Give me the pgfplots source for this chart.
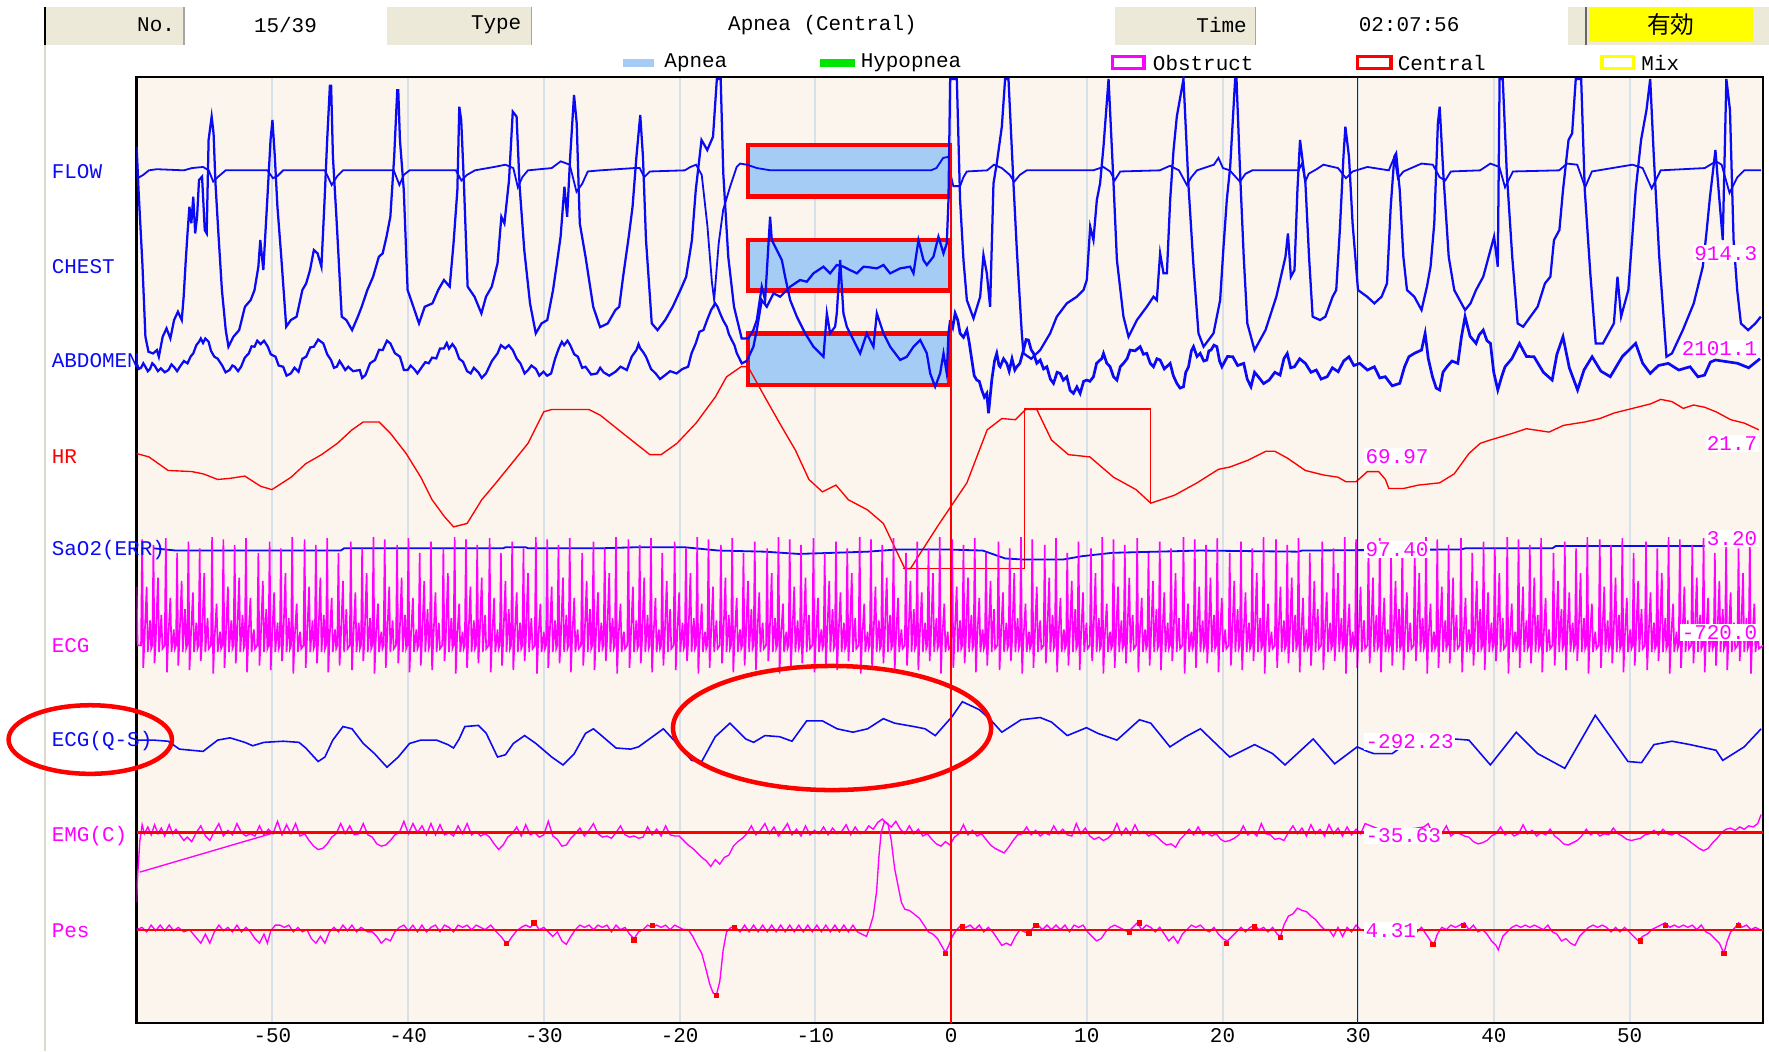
\documentclass[border=0pt]{standalone}
\usepackage{pgfplots}
\pgfplotsset{compat=1.18}
\usepackage{fontspec}
\newfontfamily\lbl{Liberation Mono}
\newfontfamily\cjk{Noto Sans CJK JP}
\newcommand\lf{\lbl\fontsize{13.2}{15}\selectfont}
\definecolor{bgc}{RGB}{252,245,237}
\definecolor{gridc}{RGB}{216,225,233}
\definecolor{hdr}{RGB}{236,233,216}
\definecolor{apn}{RGB}{164,204,244}
\definecolor{tb}{RGB}{10,10,245}
\definecolor{mag}{RGB}{255,0,255}
\definecolor{hypo}{RGB}{0,230,0}
\definecolor{mixy}{RGB}{255,255,0}
\begin{document}
\begin{tikzpicture}[x=0.25mm,y=-0.25mm]
\begin{scope}[shift={(-121,-907)}]
\path[use as bounding box] (0,0) rectangle (1568,932);
% header
\fill[hdr] (40,6) rectangle (1568,40);
\fill[white] (163,6) rectangle (343,40);
\fill[white] (471,6) rectangle (988,40);
\fill[white] (1113,6) rectangle (1390,40);
\fill[mixy] (1408,6) rectangle (1554,37);
\draw[gray!70, line width=0.3mm] (163,6) -- (163,40) (471,6) -- (471,40) (1113,6) -- (1113,40);
\draw[gray!80!black, line width=0.5mm] (1406,6) -- (1406,40);
\draw[black, line width=0.5mm] (40,6) -- (40,40);
\draw[hdr!85!gray, line width=0.35mm] (40,40) -- (40,932);
\node[anchor=east] at (160,22) {\lf No.};
\node at (253,22) {\lf 15/39};
\node[anchor=east] at (467,22) {\lf Type};
\node at (729,22) {\lf Apnea (Central)};
\node[anchor=east] at (1110,22) {\lf Time};
\node at (1249,22) {\lf 02:07:56};
\node at (1481,22) {\cjk\fontsize{15}{17}\selectfont 有効};
% legend
\fill[apn] (552,52.5) rectangle (580,59.5);
\fill[hypo] (727,52.5) rectangle (758,59.5);
\draw[mag, line width=0.7mm] (986,50) rectangle (1014,61);
\draw[red, line width=0.7mm] (1203,50) rectangle (1233,61);
\draw[mixy, line width=0.7mm] (1420,50) rectangle (1448,61);
\node[anchor=west] at (584,56) {\lf Apnea};
\node[anchor=west] at (758,56) {\lf Hypopnea};
\node[anchor=west] at (1017,56) {\lf Obstruct};
\node[anchor=west] at (1234,56) {\lf Central};
\node[anchor=west] at (1450,56) {\lf Mix};
\end{scope}
\begin{axis}[
  at={(0,0)}, anchor=south west,
  scale only axis, width=360.5mm, height=209.75mm,
  xmin=121, xmax=1563, ymin=68, ymax=907, y dir=reverse,
  axis background/.style={fill=bgc},
  xtick={241.5,361.8,482.1,602.4,722.7,843,963.3,1083.6,1203.9,1324.2,1444.5},
  xticklabels={-50,-40,-30,-20,-10,0,10,20,30,40,50},
  ytick=\empty, major tick length=0pt,
  xmajorgrids, grid style={gridc, line width=0.45mm},
  axis line style={black, line width=0.45mm},
  xticklabel style={font=\lf, anchor=center, yshift=-2.8mm},
]
% apnea boxes
\addplot[fill=apn, draw=red, line width=1mm, line join=miter, line cap=rect] coordinates {(663,128.5)(842,128.5)(842,174.3)(663,174.3)(663,128.5)};
\addplot[fill=apn, draw=red, line width=1mm, line join=miter, line cap=rect] coordinates {(663,212.8)(842,212.8)(842,257.7)(663,257.7)(663,212.8)};
\addplot[fill=apn, draw=red, line width=1mm, line join=miter, line cap=rect] coordinates {(663,295.5)(842,295.5)(842,341.3)(663,341.3)(663,295.5)};
% HR
\addplot[red, line width=0.3mm] coordinates {(121,402)(132,405)(149,417)(170,418)(180,420)(193,425)(204,424)(217,422)(231,431)(241,434)(258,423)(271,411)(285,403)(299,393)(312,381)(322,374)(336,374)(346,384)(360,402)(373,423)(383,443)(394,458)(402,467)(414,464)(427,443)(438,430)(451,414)(468,393)(482,365)(489,363)(505,363)(522,363)(532,368)(552,384)(576,403)(586,403)(600,393)(617,375)(634,352)(644,334)(657,325)(663,325)(668,334)(678,352)(691,375)(705,399)(717,425)(729,436)(741,430)(752,443)(769,452)(783,464)(793,485)(802,504)(807,504)(832,465)(857,428)(875,381)(888,371)(900,372)(909,363)(919,363)(932,390)(947,403)(966,405)(987,423)(1007,434)(1020,446)(1041,439)(1061,428)(1080,416)(1090,414)(1106,408)(1122,400)(1130,400)(1141,406)(1157,417)(1173,421)(1186,423)(1193,427)(1202,427)(1212,418)(1222,418)(1228,425)(1231,433)(1244,433)(1257,430)(1276,428)(1289,420)(1302,402)(1312,393)(1321,390)(1341,384)(1353,380)(1373,383)(1386,377)(1405,374)(1418,371)(1431,366)(1447,362)(1463,358)(1472,354)(1482,356)(1492,362)(1501,359)(1511,361)(1521,365)(1534,372)(1546,375)(1559,381)};
\addplot[red, line width=0.3mm] coordinates {(800,504)(908,504)(908,362.5)(1020,362.5)(1020,446)};
% SaO2
\addplot[tb, line width=0.4mm] coordinates {(136,486)(156,488)(302,488)(305,486)(446,486)(448,485)(466,485)(468,486)(532,486)(566,485)(606,485)(637,488)(678,489)(708,491)(769,489)(796,487)(837,487)(871,488)(891,495)(908,496)(942,496)(959,493)(986,490)(1064,488)(1151,489)(1154,488)(1295,487)(1299,486)(1376,486)(1379,484)(1511,484)};
% ECG
\addplot[mag, line width=0.36mm] coordinates {(121,520)(122,572)
(125,572)(126,478)(127,592)(128,569)(130,520)(131,578)(133,550)(134,575)
(135,572)(136,483)(137,588)(138,569)(140,512)(141,578)(143,545)(144,575)
(146,572)(147,477)(148,596)(149,569)(151,530)(152,578)(154,558)(155,575)
(156,572)(157,490)(158,590)(159,569)(161,515)(162,578)(164,540)(165,575)
(166,572)(167,480)(168,594)(169,569)(171,525)(172,578)(174,552)(175,575)
(176,572)(177,486)(178,586)(179,569)(181,508)(182,578)(184,548)(185,575)
(187,572)(188,476)(189,597)(190,569)(192,535)(193,578)(195,560)(196,575)
(197,572)(198,478)(199,592)(200,569)(202,520)(203,578)(205,550)(206,575)
(207,572)(208,483)(209,588)(210,569)(212,512)(213,578)(215,545)(216,575)
(217,572)(218,477)(219,596)(220,569)(222,530)(223,578)(225,558)(226,575)
(228,572)(229,490)(230,590)(231,569)(233,515)(234,578)(236,540)(237,575)
(238,572)(239,480)(240,594)(241,569)(243,525)(244,578)(246,552)(247,575)
(248,572)(249,486)(250,586)(251,569)(253,508)(254,578)(256,548)(257,575)
(258,572)(259,476)(260,597)(261,569)(263,535)(264,578)(266,560)(267,575)
(269,572)(270,478)(271,592)(272,569)(274,520)(275,578)(277,550)(278,575)
(279,572)(280,483)(281,588)(282,569)(284,512)(285,578)(287,545)(288,575)
(289,572)(290,477)(291,596)(292,569)(294,530)(295,578)(297,558)(298,575)
(299,572)(300,490)(301,590)(302,569)(304,515)(305,578)(307,540)(308,575)
(310,572)(311,480)(312,594)(313,569)(315,525)(316,578)(318,552)(319,575)
(320,572)(321,486)(322,586)(323,569)(325,508)(326,578)(328,548)(329,575)
(330,572)(331,476)(332,597)(333,569)(335,535)(336,578)(338,560)(339,575)
(340,572)(341,478)(342,592)(343,569)(345,520)(346,578)(348,550)(349,575)
(351,572)(352,483)(353,588)(354,569)(356,512)(357,578)(359,545)(360,575)
(361,572)(362,477)(363,596)(364,569)(366,530)(367,578)(369,558)(370,575)
(371,572)(372,490)(373,590)(374,569)(376,515)(377,578)(379,540)(380,575)
(381,572)(382,480)(383,594)(384,569)(386,525)(387,578)(389,552)(390,575)
(392,572)(393,486)(394,586)(395,569)(397,508)(398,578)(400,548)(401,575)
(402,572)(403,476)(404,597)(405,569)(407,535)(408,578)(410,560)(411,575)
(412,572)(413,478)(414,592)(415,569)(417,520)(418,578)(420,550)(421,575)
(422,572)(423,483)(424,588)(425,569)(427,512)(428,578)(430,545)(431,575)
(433,572)(434,477)(435,596)(436,569)(438,530)(439,578)(441,558)(442,575)
(443,572)(444,490)(445,590)(446,569)(448,515)(449,578)(451,540)(452,575)
(453,572)(454,480)(455,594)(456,569)(458,525)(459,578)(461,552)(462,575)
(463,572)(464,486)(465,586)(466,569)(468,508)(469,578)(471,548)(472,575)
(474,572)(475,476)(476,597)(477,569)(479,535)(480,578)(482,560)(483,575)
(484,572)(485,478)(486,592)(487,569)(489,520)(490,578)(492,550)(493,575)
(494,572)(495,483)(496,588)(497,569)(499,512)(500,578)(502,545)(503,575)
(504,572)(505,477)(506,596)(507,569)(509,530)(510,578)(512,558)(513,575)
(515,572)(516,490)(517,590)(518,569)(520,515)(521,578)(523,540)(524,575)
(525,572)(526,480)(527,594)(528,569)(530,525)(531,578)(533,552)(534,575)
(535,572)(536,486)(537,586)(538,569)(540,508)(541,578)(543,548)(544,575)
(545,572)(546,476)(547,597)(548,569)(550,535)(551,578)(553,560)(554,575)
(556,572)(557,478)(558,592)(559,569)(561,520)(562,578)(564,550)(565,575)
(566,572)(567,483)(568,588)(569,569)(571,512)(572,578)(574,545)(575,575)
(576,572)(577,477)(578,596)(579,569)(581,530)(582,578)(584,558)(585,575)
(586,572)(587,490)(588,590)(589,569)(591,515)(592,578)(594,540)(595,575)
(597,572)(598,480)(599,594)(600,569)(602,525)(603,578)(605,552)(606,575)
(607,572)(608,486)(609,586)(610,569)(612,508)(613,578)(615,548)(616,575)
(617,572)(618,476)(619,597)(620,569)(622,535)(623,578)(625,560)(626,575)
(627,572)(628,478)(629,592)(630,569)(632,520)(633,578)(635,550)(636,575)
(638,572)(639,483)(640,588)(641,569)(643,512)(644,578)(646,545)(647,575)
(648,572)(649,477)(650,596)(651,569)(653,530)(654,578)(656,558)(657,575)
(658,572)(659,490)(660,590)(661,569)(663,515)(664,578)(666,540)(667,575)
(668,572)(669,480)(670,594)(671,569)(673,525)(674,578)(676,552)(677,575)
(679,572)(680,486)(681,586)(682,569)(684,508)(685,578)(687,548)(688,575)
(689,572)(690,476)(691,597)(692,569)(694,535)(695,578)(697,560)(698,575)
(699,572)(700,478)(701,592)(702,569)(704,520)(705,578)(707,550)(708,575)
(709,572)(710,483)(711,588)(712,569)(714,512)(715,578)(717,545)(718,575)
(720,572)(721,477)(722,596)(723,569)(725,530)(726,578)(728,558)(729,575)
(730,572)(731,490)(732,590)(733,569)(735,515)(736,578)(738,540)(739,575)
(740,572)(741,480)(742,594)(743,569)(745,525)(746,578)(748,552)(749,575)
(750,572)(751,486)(752,586)(753,569)(755,508)(756,578)(758,548)(759,575)
(761,572)(762,476)(763,597)(764,569)(766,535)(767,578)(769,560)(770,575)
(771,572)(772,478)(773,592)(774,569)(776,520)(777,578)(779,550)(780,575)
(781,572)(782,483)(783,588)(784,569)(786,512)(787,578)(789,545)(790,575)
(791,572)(792,477)(793,596)(794,569)(796,530)(797,578)(799,558)(800,575)
(802,572)(803,490)(804,590)(805,569)(807,515)(808,578)(810,540)(811,575)
(812,572)(813,480)(814,594)(815,569)(817,525)(818,578)(820,552)(821,575)
(822,572)(823,486)(824,586)(825,569)(827,508)(828,578)(830,548)(831,575)
(832,572)(833,476)(834,597)(835,569)(837,535)(838,578)(840,560)(841,575)
(843,572)(844,478)(845,592)(846,569)(848,520)(849,578)(851,550)(852,575)
(853,572)(854,483)(855,588)(856,569)(858,512)(859,578)(861,545)(862,575)
(863,572)(864,477)(865,596)(866,569)(868,530)(869,578)(871,558)(872,575)
(873,572)(874,490)(875,590)(876,569)(878,515)(879,578)(881,540)(882,575)
(884,572)(885,480)(886,594)(887,569)(889,525)(890,578)(892,552)(893,575)
(894,572)(895,486)(896,586)(897,569)(899,508)(900,578)(902,548)(903,575)
(904,572)(905,476)(906,597)(907,569)(909,535)(910,578)(912,560)(913,575)
(914,572)(915,478)(916,592)(917,569)(919,520)(920,578)(922,550)(923,575)
(925,572)(926,483)(927,588)(928,569)(930,512)(931,578)(933,545)(934,575)
(935,572)(936,477)(937,596)(938,569)(940,530)(941,578)(943,558)(944,575)
(945,572)(946,490)(947,590)(948,569)(950,515)(951,578)(953,540)(954,575)
(955,572)(956,480)(957,594)(958,569)(960,525)(961,578)(963,552)(964,575)
(966,572)(967,486)(968,586)(969,569)(971,508)(972,578)(974,548)(975,575)
(976,572)(977,476)(978,597)(979,569)(981,535)(982,578)(984,560)(985,575)
(986,572)(987,478)(988,592)(989,569)(991,520)(992,578)(994,550)(995,575)
(996,572)(997,483)(998,588)(999,569)(1001,512)(1002,578)(1004,545)(1005,575)
(1007,572)(1008,477)(1009,596)(1010,569)(1012,530)(1013,578)(1015,558)(1016,575)
(1017,572)(1018,490)(1019,590)(1020,569)(1022,515)(1023,578)(1025,540)(1026,575)
(1027,572)(1028,480)(1029,594)(1030,569)(1032,525)(1033,578)(1035,552)(1036,575)
(1037,572)(1038,486)(1039,586)(1040,569)(1042,508)(1043,578)(1045,548)(1046,575)
(1048,572)(1049,476)(1050,597)(1051,569)(1053,535)(1054,578)(1056,560)(1057,575)
(1058,572)(1059,478)(1060,592)(1061,569)(1063,520)(1064,578)(1066,550)(1067,575)
(1068,572)(1069,483)(1070,588)(1071,569)(1073,512)(1074,578)(1076,545)(1077,575)
(1078,572)(1079,477)(1080,596)(1081,569)(1083,530)(1084,578)(1086,558)(1087,575)
(1089,572)(1090,490)(1091,590)(1092,569)(1094,515)(1095,578)(1097,540)(1098,575)
(1099,572)(1100,480)(1101,594)(1102,569)(1104,525)(1105,578)(1107,552)(1108,575)
(1109,572)(1110,486)(1111,586)(1112,569)(1114,508)(1115,578)(1117,548)(1118,575)
(1119,572)(1120,476)(1121,597)(1122,569)(1124,535)(1125,578)(1127,560)(1128,575)
(1130,572)(1131,478)(1132,592)(1133,569)(1135,520)(1136,578)(1138,550)(1139,575)
(1140,572)(1141,483)(1142,588)(1143,569)(1145,512)(1146,578)(1148,545)(1149,575)
(1150,572)(1151,477)(1152,596)(1153,569)(1155,530)(1156,578)(1158,558)(1159,575)
(1160,572)(1161,490)(1162,590)(1163,569)(1165,515)(1166,578)(1168,540)(1169,575)
(1171,572)(1172,480)(1173,594)(1174,569)(1176,525)(1177,578)(1179,552)(1180,575)
(1181,572)(1182,486)(1183,586)(1184,569)(1186,508)(1187,578)(1189,548)(1190,575)
(1191,572)(1192,476)(1193,597)(1194,569)(1196,535)(1197,578)(1199,560)(1200,575)
(1201,572)(1202,478)(1203,592)(1204,569)(1206,520)(1207,578)(1209,550)(1210,575)
(1212,572)(1213,483)(1214,588)(1215,569)(1217,512)(1218,578)(1220,545)(1221,575)
(1222,572)(1223,477)(1224,596)(1225,569)(1227,530)(1228,578)(1230,558)(1231,575)
(1232,572)(1233,490)(1234,590)(1235,569)(1237,515)(1238,578)(1240,540)(1241,575)
(1242,572)(1243,480)(1244,594)(1245,569)(1247,525)(1248,578)(1250,552)(1251,575)
(1253,572)(1254,486)(1255,586)(1256,569)(1258,508)(1259,578)(1261,548)(1262,575)
(1263,572)(1264,476)(1265,597)(1266,569)(1268,535)(1269,578)(1271,560)(1272,575)
(1273,572)(1274,478)(1275,592)(1276,569)(1278,520)(1279,578)(1281,550)(1282,575)
(1283,572)(1284,483)(1285,588)(1286,569)(1288,512)(1289,578)(1291,545)(1292,575)
(1294,572)(1295,477)(1296,596)(1297,569)(1299,530)(1300,578)(1302,558)(1303,575)
(1304,572)(1305,490)(1306,590)(1307,569)(1309,515)(1310,578)(1312,540)(1313,575)
(1314,572)(1315,480)(1316,594)(1317,569)(1319,525)(1320,578)(1322,552)(1323,575)
(1324,572)(1325,486)(1326,586)(1327,569)(1329,508)(1330,578)(1332,548)(1333,575)
(1335,572)(1336,476)(1337,597)(1338,569)(1340,535)(1341,578)(1343,560)(1344,575)
(1345,572)(1346,478)(1347,592)(1348,569)(1350,520)(1351,578)(1353,550)(1354,575)
(1355,572)(1356,483)(1357,588)(1358,569)(1360,512)(1361,578)(1363,545)(1364,575)
(1365,572)(1366,477)(1367,596)(1368,569)(1370,530)(1371,578)(1373,558)(1374,575)
(1376,572)(1377,490)(1378,590)(1379,569)(1381,515)(1382,578)(1384,540)(1385,575)
(1386,572)(1387,480)(1388,594)(1389,569)(1391,525)(1392,578)(1394,552)(1395,575)
(1396,572)(1397,486)(1398,586)(1399,569)(1401,508)(1402,578)(1404,548)(1405,575)
(1406,572)(1407,476)(1408,597)(1409,569)(1411,535)(1412,578)(1414,560)(1415,575)
(1417,572)(1418,478)(1419,592)(1420,569)(1422,520)(1423,578)(1425,550)(1426,575)
(1427,572)(1428,483)(1429,588)(1430,569)(1432,512)(1433,578)(1435,545)(1436,575)
(1437,572)(1438,477)(1439,596)(1440,569)(1442,530)(1443,578)(1445,558)(1446,575)
(1447,572)(1448,490)(1449,590)(1450,569)(1452,515)(1453,578)(1455,540)(1456,575)
(1458,572)(1459,480)(1460,594)(1461,569)(1463,525)(1464,578)(1466,552)(1467,575)
(1468,572)(1469,486)(1470,586)(1471,569)(1473,508)(1474,578)(1476,548)(1477,575)
(1478,572)(1479,476)(1480,597)(1481,569)(1483,535)(1484,578)(1486,560)(1487,575)
(1488,572)(1489,478)(1490,592)(1491,569)(1493,520)(1494,578)(1496,550)(1497,575)
(1499,572)(1500,483)(1501,588)(1502,569)(1504,512)(1505,578)(1507,545)(1508,575)
(1509,572)(1510,477)(1511,596)(1512,569)(1514,530)(1515,578)(1517,558)(1518,575)
(1519,572)(1520,490)(1521,590)(1522,569)(1524,515)(1525,578)(1527,540)(1528,575)
(1529,572)(1530,480)(1531,594)(1532,569)(1534,525)(1535,578)(1537,552)(1538,575)
(1540,572)(1541,486)(1542,586)(1543,569)(1545,508)(1546,578)(1548,548)(1549,575)
(1550,572)(1551,476)(1552,597)(1553,569)(1555,535)(1556,578)(1558,560)(1559,575)(1563,572)};
% ECG(Q-S)
\addplot[tb, line width=0.35mm] coordinates {(122,656)(136,656)(149,657)(159,664)(180,666)(193,656)(204,654)(217,658)(224,661)(234,658)(251,657)(265,658)(271,663)(282,675)(288,671)(295,656)(304,644)(312,646)(322,659)(332,668)(343,680)(353,671)(363,659)(373,656)(387,656)(397,660)(402,663)(407,655)(412,644)(424,643)(431,650)(441,671)(448,669)(455,659)(465,652)(475,659)(489,671)(499,678)(509,668)(519,650)(526,646)(532,651)(546,663)(559,664)(566,662)(588,646)(600,659)(613,674)(622,675)(634,653)(647,641)(661,655)(668,658)(678,652)(691,653)(702,657)(715,639)(729,639)(742,646)(756,649)(769,646)(783,637)(793,641)(810,644)(820,646)(829,652)(844,635)(853,622)(868,629)(878,638)(888,649)(905,638)(922,636)(932,640)(946,652)(963,645)(973,650)(990,656)(1010,638)(1020,641)(1037,662)(1051,653)(1064,646)(1090,671)(1112,660)(1128,668)(1139,678)(1164,655)(1183,677)(1203,662)(1212,666)(1218,668)(1234,668)(1245,660)(1260,655)(1289,655)(1302,656)(1321,678)(1344,649)(1363,668)(1387,681)(1414,634)(1443,675)(1455,676)(1466,660)(1482,657)(1498,660)(1521,665)(1527,674)(1546,662)(1561,646)};
% EMG(C)
\addplot[mag, line width=0.3mm] coordinates {(121,800)(122,776)(124,745)(126,731)(128,739)(131,733)(134,740)(137,731)(140,739)(143,734)(146,741)(150,731)(153,739)(156,735)(160,741)(163,745)(166,742)(170,746)(174,738)(178,732)(182,741)(186,745)(190,737)(194,730)(198,741)(202,736)(206,740)(210,730)(214,738)(218,741)(222,739)(226,741)(230,732)(234,740)(238,735)(242,739)(246,728)(250,740)(254,731)(258,739)(262,730)(266,741)(270,739)(274,745)(278,750)(282,753)(286,752)(290,748)(294,742)(298,739)(302,730)(306,739)(310,732)(314,740)(318,739)(322,730)(326,740)(330,742)(334,748)(338,750)(342,749)(346,745)(350,740)(354,738)(358,728)(362,739)(366,730)(370,738)(374,732)(378,740)(382,730)(386,740)(390,731)(394,740)(398,738)(402,741)(406,732)(410,739)(414,730)(418,740)(422,737)(426,741)(430,739)(434,742)(438,748)(442,753)(446,749)(450,742)(454,739)(458,733)(462,741)(466,731)(470,740)(474,738)(478,742)(482,740)(486,728)(490,741)(494,744)(498,750)(502,749)(506,743)(510,739)(514,734)(518,741)(522,736)(526,730)(530,739)(534,742)(538,741)(542,743)(546,738)(550,732)(554,740)(558,742)(562,741)(566,743)(570,742)(574,733)(578,740)(582,735)(586,741)(590,732)(594,740)(598,741)(602,741)(606,745)(610,749)(614,752)(618,756)(622,760)(626,763)(630,768)(634,762)(638,766)(642,760)(646,758)(650,750)(654,746)(658,743)(662,739)(666,732)(670,740)(674,736)(678,730)(682,739)(686,733)(690,741)(694,736)(698,730)(702,740)(706,735)(710,741)(714,732)(718,740)(722,736)(726,739)(730,733)(734,740)(738,734)(742,739)(746,737)(750,731)(754,740)(758,733)(762,739)(766,738)(770,732)(774,735)(778,729)(782,726)(786,730)(790,733)(794,728)(798,735)(802,739)(806,732)(810,739)(814,735)(818,741)(822,739)(826,744)(830,748)(834,750)(838,746)(842,749)(846,742)(850,739)(854,731)(858,740)(862,736)(866,741)(870,739)(874,744)(878,749)(882,752)(886,754)(890,756)(894,751)(898,745)(902,740)(906,739)(910,733)(914,740)(918,736)(922,741)(926,738)(930,740)(934,732)(938,739)(942,735)(946,740)(950,741)(954,730)(958,739)(962,734)(966,741)(970,744)(974,742)(978,745)(982,743)(986,739)(990,730)(994,740)(998,734)(1002,740)(1006,731)(1010,739)(1014,737)(1018,741)(1022,739)(1026,742)(1030,746)(1034,749)(1038,748)(1042,751)(1046,744)(1050,740)(1054,735)(1058,740)(1062,733)(1066,740)(1070,738)(1074,741)(1078,739)(1082,744)(1086,746)(1090,745)(1094,743)(1098,740)(1102,732)(1106,740)(1110,737)(1114,741)(1118,730)(1122,739)(1126,740)(1130,744)(1134,743)(1138,745)(1142,738)(1146,732)(1150,739)(1154,734)(1158,741)(1162,731)(1166,739)(1170,735)(1174,741)(1178,731)(1182,739)(1186,734)(1190,741)(1194,733)(1198,740)(1202,735)(1206,739)(1210,730)(1230,738)(1262,733)(1266,730)(1270,740)(1274,735)(1278,739)(1282,732)(1286,741)(1290,738)(1294,739)(1298,741)(1302,742)(1306,746)(1310,748)(1314,747)(1318,745)(1322,741)(1326,739)(1330,733)(1334,740)(1338,737)(1342,741)(1346,739)(1350,731)(1354,739)(1358,736)(1362,741)(1366,738)(1370,740)(1374,735)(1378,741)(1382,744)(1386,748)(1390,749)(1394,747)(1398,745)(1402,741)(1406,735)(1410,740)(1414,737)(1418,741)(1422,739)(1426,740)(1430,734)(1434,739)(1438,741)(1442,744)(1446,745)(1450,744)(1454,743)(1458,740)(1462,739)(1466,736)(1470,740)(1474,735)(1478,739)(1482,740)(1486,738)(1490,741)(1494,743)(1498,746)(1502,749)(1506,752)(1510,754)(1514,752)(1518,747)(1522,743)(1526,738)(1530,735)(1534,734)(1538,736)(1542,733)(1546,735)(1550,732)(1554,733)(1558,730)(1561,722)};
\addplot[mag, line width=0.3mm] coordinates {(124,773)(240,739)};
\addplot[red, line width=0.5mm] coordinates {(121,738)(1563,738)};
% Pes
\addplot[mag, line width=0.3mm] coordinates {(121,824)(126,822)(130,826)(134,820)(138,825)(142,820)(146,825)(150,820)(154,825)(158,822)(163,826)(168,824)(173,830)(178,836)(182,828)(186,836)(190,826)(194,820)(198,825)(202,822)(206,826)(210,820)(214,826)(218,822)(222,826)(226,832)(230,836)(234,828)(237,836)(240,825)(244,820)(248,820)(252,822)(256,820)(260,826)(264,822)(268,826)(272,824)(276,832)(280,836)(284,830)(288,836)(292,826)(296,822)(300,826)(304,820)(308,825)(312,820)(316,826)(320,822)(326,826)(330,826)(334,830)(338,836)(342,832)(346,834)(350,826)(354,822)(358,820)(362,825)(366,820)(370,826)(374,820)(378,826)(382,822)(386,820)(390,826)(394,820)(398,822)(402,826)(406,820)(410,822)(414,820)(418,824)(422,820)(426,822)(430,824)(435,820)(440,826)(444,830)(447,834)(450,836)(454,830)(458,825)(462,822)(466,820)(470,822)(474,818)(478,824)(482,822)(486,826)(490,830)(494,826)(498,834)(502,837)(506,830)(510,824)(514,820)(518,822)(522,820)(526,824)(530,820)(534,822)(538,820)(542,826)(546,820)(550,824)(554,822)(558,828)(562,832)(566,826)(570,824)(574,820)(578,822)(582,820)(586,822)(590,820)(594,824)(598,820)(602,822)(606,824)(610,824)(614,830)(618,838)(622,845)(626,860)(629,872)(632,880)(635,882)(638,870)(641,842)(644,826)(648,822)(652,822)(656,826)(660,820)(664,826)(668,820)(672,826)(676,820)(680,826)(684,820)(688,826)(692,820)(696,826)(700,820)(704,826)(708,820)(712,826)(716,820)(720,826)(724,820)(728,826)(732,820)(736,826)(740,820)(744,826)(748,820)(752,826)(756,820)(760,826)(764,828)(768,830)(771,822)(774,812)(777,790)(779,760)(781,738)(784,728)(787,730)(790,745)(793,770)(796,785)(799,800)(802,806)(806,807)(810,810)(815,814)(819,820)(823,826)(827,828)(831,832)(835,839)(838,844)(841,838)(844,830)(848,824)(852,820)(856,822)(860,820)(864,824)(868,820)(872,826)(876,822)(880,826)(884,832)(888,838)(892,836)(896,838)(900,830)(904,824)(908,826)(912,827)(916,822)(920,820)(924,824)(928,820)(932,824)(936,820)(940,824)(944,820)(948,826)(952,820)(956,822)(960,820)(964,826)(968,830)(972,834)(976,832)(980,826)(984,822)(988,820)(992,822)(996,824)(1000,826)(1004,822)(1008,818)(1012,824)(1016,820)(1020,822)(1024,826)(1028,822)(1032,828)(1036,834)(1040,830)(1044,836)(1048,828)(1052,824)(1056,820)(1060,822)(1064,820)(1068,824)(1072,826)(1076,822)(1080,828)(1084,832)(1088,834)(1092,830)(1096,826)(1100,822)(1104,826)(1108,822)(1112,820)(1116,824)(1120,822)(1124,826)(1128,822)(1132,828)(1135,830)(1138,820)(1142,812)(1146,810)(1150,805)(1154,807)(1158,808)(1162,812)(1166,815)(1170,820)(1174,824)(1178,824)(1182,830)(1186,822)(1190,830)(1194,822)(1198,826)(1202,820)(1206,824)(1212,826)(1252,822)(1256,826)(1260,822)(1264,828)(1268,834)(1271,837)(1274,828)(1278,822)(1282,824)(1286,820)(1290,822)(1294,820)(1298,818)(1302,824)(1306,820)(1310,826)(1314,824)(1318,828)(1322,834)(1326,838)(1328,842)(1332,830)(1336,826)(1340,822)(1344,820)(1348,822)(1352,820)(1356,822)(1360,820)(1364,822)(1368,824)(1372,820)(1376,826)(1380,828)(1384,834)(1388,832)(1392,836)(1396,838)(1400,830)(1404,826)(1408,822)(1412,820)(1416,822)(1420,820)(1424,822)(1428,826)(1432,822)(1436,826)(1440,822)(1444,826)(1448,830)(1452,834)(1456,830)(1460,828)(1464,824)(1468,822)(1472,820)(1476,818)(1480,822)(1484,820)(1488,822)(1492,820)(1496,822)(1500,820)(1504,824)(1508,820)(1512,826)(1516,828)(1520,832)(1524,836)(1528,845)(1531,834)(1534,826)(1538,822)(1541,818)(1544,822)(1548,820)(1552,824)(1556,822)(1560,824)};
\addplot[red, line width=0.55mm] coordinates {(121,824.5)(1563,824.5)};
\addplot[red, only marks, mark=square*, mark size=0.5mm] coordinates {(449,836)(473,818)(562,833)(578,820)(635,882)(651,822)(838,845)(853,821)(912,827)(918,820)(1001,826)(1010,818)(1087,836)(1112,821)(1135,831)(1270,837)(1297,820)(1454,834)(1476,820)(1528,845)(1541,820)};
% FLOW
\addplot[tb, line width=0.4mm] coordinates {(121,130)(122,158)(127,155)(132,151)(139,150)(163,151)(170,149)(180,148)(185,151)(189,161)(193,157)(200,151)(237,151)(242,158)(246,156)(251,151)(288,151)(294,164)(299,156)(304,151)(349,151)(354,164)(358,155)(363,151)(404,151)(409,160)(414,155)(421,151)(438,148)(448,146)(455,149)(459,166)(463,157)(468,151)(489,149)(497,143)(505,146)(511,170)(516,163)(521,152)(532,151)(562,149)(567,149)(571,157)(576,152)(607,151)(612,148)(617,146)(622,155)(627,200)(631,250)(633,266)(637,216)(641,186)(647,166)(653,148)(656,145)(662,146)(671,149)(683,151)(825,151)(830,149)(836,140)(841,139)(842,152)(845,165)(851,165)(854,157)(857,152)(875,151)(881,146)(888,149)(895,155)(899,161)(904,155)(910,151)(969,151)(978,148)(984,152)(988,160)(993,152)(1028,151)(1037,147)(1045,151)(1052,164)(1056,157)(1061,151)(1076,146)(1080,140)(1084,149)(1090,151)(1099,161)(1104,154)(1110,151)(1151,151)(1154,145)(1157,161)(1160,154)(1167,150)(1173,146)(1186,149)(1193,158)(1199,152)(1212,148)(1231,151)(1236,139)(1239,158)(1244,152)(1260,145)(1270,146)(1276,157)(1281,160)(1286,152)(1312,151)(1321,145)(1329,148)(1334,166)(1341,152)(1382,151)(1389,145)(1398,146)(1405,166)(1411,152)(1447,146)(1456,149)(1464,167)(1472,151)(1511,149)(1521,143)(1526,146)(1533,171)(1540,157)(1546,151)(1561,151)};
% CHEST (trace 1, before and during the apnea)
\addplot[tb, line width=0.5mm] coordinates {(121.1,130)(122.8,168.5)(126.2,233.5)(128.9,298.5)(131.6,311.8)(135.7,313.3)(139.1,310.3)(140.8,316.2)(144.2,298.5)(147.6,291.1)(151,300)(154.3,283.7)(157.7,276.3)(161.1,283.7)(162.8,263)(164.5,233.5)(166.2,206.9)(167.9,183.2)(169.6,198)(171.3,174.4)(173,206.9)(174.7,192.1)(176.4,159.6)(179.1,156.6)(181.5,203.9)(183.2,206.9)(184.9,124.1)(187.6,103.4)(189.3,118.2)(191,162.5)(193.4,203.9)(196.7,257.1)(200.1,292.6)(202.5,307.3)(206.9,298.5)(212,292.6)(217.1,271.9)(222.2,266)(225.6,257.1)(229,236.4)(230.7,212.8)(233.4,239.4)(237.4,168.5)(239.8,124.1)(241.5,106.4)(243.6,138.9)(245.9,183.2)(249.3,227.6)(253.7,289.6)(257.8,283.7)(262.9,280.7)(268,257.1)(271.4,251.2)(274.8,239.4)(278.2,221.6)(281.5,224.6)(284.9,236.4)(287.7,177.3)(290,124.1)(292.4,76)(293.5,76)(295.1,138.9)(298.5,198)(302.9,280.7)(307,283.7)(312.1,292.6)(317.2,280.7)(320.6,271.9)(325.6,257.1)(330.7,245.3)(335.8,227.6)(339.2,224.6)(342.6,209.8)(346,192.1)(349.4,138.9)(352.1,80)(353,80)(354.5,124.1)(357.9,168.5)(361.3,257.1)(366.4,271.9)(371.4,286.7)(376.5,271.9)(383.3,268.9)(388.4,257.1)(393.5,248.2)(398.6,254.1)(402,215.7)(405.4,168.5)(407.1,94.6)(408.8,106.4)(411.1,159.6)(414.5,254.1)(420.6,263)(426.7,277.8)(430.8,263)(435.9,254.1)(441,233.5)(444.4,192.1)(447.1,198)(451.2,159.6)(454.5,99)(457.9,103.4)(460.6,165.5)(464.7,221.6)(469.8,268.9)(474.9,295.5)(480,286.7)(485.1,283.7)(490.2,257.1)(493.6,233.5)(496.9,209.8)(500.3,165.5)(502.7,192.1)(505.4,138.9)(508.8,84.2)(511.2,109.4)(513.9,198)(519,227.6)(525.8,271.9)(531.9,290)(538.7,286.7)(545.5,274.8)(548.9,271.9)(552.3,245.3)(557.3,209.8)(560.7,183.2)(564.1,138.9)(567.5,102)(569.9,138.9)(572.6,212.8)(577.7,286.7)(582.8,292.6)(589.6,283.7)(596.3,271.9)(603.1,257.1)(608.2,245.3)(613.3,212.8)(616.7,168.5)(621.8,124.1)(626.9,133)(632,121.2)(635.4,70)(638.8,70)(641.1,153.7)(645.5,227.6)(650.6,271.9)(657.4,300)(663.4,299.9)(667.8,292.5)(670.8,283.7)(675.2,254.1)(678.2,266)(682.6,192.1)(684.1,212.8)(688.5,221.6)(693,230.5)(695.9,245.3)(700.4,266)(706.3,280.7)(713.7,295.5)(721,307.3)(729.9,316.2)(732.9,277.8)(735.8,295.5)(740.2,289.6)(741.7,277.8)(744.7,230.5)(747.6,277.8)(750.6,289.6)(756.5,301.4)(762.4,313.2)(768.3,295.5)(774.2,307.3)(777.2,277.8)(783.1,295.5)(789,307.3)(797.9,319.1)(803.8,316.2)(809.7,307.3)(815.6,301.4)(821.5,313.2)(824.5,331)(828.9,342.8)(833.3,331)(836.3,313.2)(839.2,331)(840.7,295.5)(842.2,283.7)};
% ABDOMEN after the apnea (noisy)
\addplot[tb, line width=0.6mm] coordinates {(842.2,283.7)(844.5,290)(846.6,277.8)(849,284)(851,295.5)(854,299)(857,292.5)(859,303)(861.4,319.1)(863.5,333)(865.8,336.9)(868,338)(870.2,345.7)(872.5,352)(874.7,348.7)(876.2,366.4)(879.1,336.9)(881.5,320)(883.5,313.2)(885.5,324)(886.5,325.1)(889.5,318)(892.4,322.1)(894.5,329)(897,318)(899.5,328)(901.3,325.1)(904,322)(907.2,310.3)(909.5,301)(911.6,301.4)(914,310)(916.1,313.2)(919,322)(922,319.1)(925,327)(927.9,325.1)(931,336)(933.8,339.8)(937,330)(939.7,331)(942.5,337)(945.6,334)(948.5,346)(951.5,348.7)(954.5,343)(957.4,348.7)(960.5,338)(963.3,336.9)(966,338)(969.2,334)(972,322)(975.1,319.1)(976.5,318)(978.1,313.2)(981,322)(984,325.1)(987,334)(990,336.9)(993,325)(995.8,322.1)(999,318)(1001.7,310.3)(1006,311)(1010.6,307.3)(1013.5,314)(1016.5,313.2)(1019.5,322)(1022.4,325.1)(1025.5,318)(1028.3,319.1)(1032,327)(1037.2,322.1)(1040,333)(1043.1,339.8)(1046,344)(1049,342.8)(1051,330)(1053.5,325.1)(1056,311)(1057.9,307.3)(1061,316)(1063.8,313.2)(1067,320)(1069.7,319.1)(1071.5,311)(1073.4,310.3)(1076,306)(1078.6,307.3)(1081,320)(1083.1,325.1)(1088,316)(1092.7,316.2)(1097,324)(1102.4,322.1)(1105.5,336)(1108.8,342.8)(1112,330)(1115.3,333.9)(1120,340)(1124.9,336.9)(1130,330)(1134.6,332.5)(1138,318)(1141,313.3)(1144,326)(1147.4,325.1)(1152,318)(1157.1,322.1)(1162,330)(1166.7,328)(1171,336)(1176.4,333.9)(1181,326)(1186.1,329.5)(1191,320)(1195.7,316.2)(1200,324)(1205.3,322.1)(1212,328)(1218.2,325.1)(1223,335)(1227.9,333.9)(1234,342)(1240.7,339.8)(1245,325)(1248.8,316.2)(1254,313)(1260,310.3)(1263.2,295.5)(1266,318)(1269.7,333.9)(1273,344)(1276.1,345.7)(1279,330)(1282.5,325.1)(1287,320)(1292.2,322.1)(1295.4,298.5)(1298.6,280.7)(1303,298)(1308.3,304.4)(1311,297)(1314.7,292.6)(1318,302)(1321.1,304.4)(1324,330)(1327.6,345.7)(1331,334)(1334,325.1)(1340,318)(1346.8,304.4)(1353,316)(1359.7,316.2)(1368,330)(1375.8,336.9)(1380,314)(1385.4,298.5)(1391,326)(1398.3,345.7)(1404,328)(1411.2,316.2)(1419,329)(1427.3,333.9)(1438,316)(1449.8,304.4)(1456,322)(1462.7,331)(1470,324)(1478.7,322.1)(1488,328)(1498,325.1)(1505,334)(1510.9,332.5)(1516,321)(1520.5,319.1)(1540,322)(1550,326)(1560,318)};
% ABDOMEN before the apnea, then the large swings after it (trace 2)
\addplot[tb, line width=0.5mm] coordinates {(121.1,322.1)(123,327)(125,326)(127,322)(128.9,325.1)(131,329)(133,327)(135,322)(137,324)(140,329)(142.5,326.5)(146,330)(149.3,328)(152,323)(154,325)(157,329)(159.4,325.1)(163,320)(166.2,322.1)(169,316)(171.3,313.3)(174,306)(176.4,302.9)(178,300)(180,304)(182,300)(184.9,302.9)(187,311)(190,316.2)(193,318)(196.7,323.6)(200,330)(203.5,328)(206,324)(208,325)(211,329)(213.7,325.1)(217,317)(220.5,313.3)(223,307)(225.6,307.3)(228,302)(231,305)(234,302)(237.4,307.3)(240,314)(244.2,316.2)(247,324)(251,325.1)(254,333)(257.8,331)(261,326)(264.6,329.5)(268,318)(271.4,316.2)(275,308)(278.2,307.3)(282,301)(286.6,304.4)(290,314)(293.4,319.1)(296,326)(298.5,325.1)(301,320)(303,323)(306,328)(308.7,325.1)(313,329)(318.9,328)(321,335)(323.9,332.5)(328,322)(332.4,319.1)(336,310)(339.2,310.3)(343,302)(346,304.4)(350,313)(354.5,316.2)(358,328)(361.3,328)(364,324)(367,327)(370,331)(373.1,326.5)(377,321)(380,322)(383,317)(386.7,317.7)(390,309)(393.5,308.8)(396,304)(398,309)(401,305)(403.7,308.8)(407,318)(410.4,320.6)(414,329)(417.2,331)(420,326)(424,330)(427,335)(430.8,331)(436,320)(441,313.3)(444,306)(447.8,308.8)(451,306)(454.5,310.3)(458,318)(461.3,322.1)(465,331)(468.1,328)(471,324)(475,327)(478,333)(481.7,329.5)(485,333)(488.5,331)(492,318)(495.3,308.8)(498,303)(500,306)(503,302)(505.4,305.9)(509,314)(512.2,316.2)(516,326)(519,325.1)(524,332)(529.2,331)(532,326)(535,330)(540,333)(545.5,329.5)(550,325)(555.6,328)(560,316)(564.1,310.3)(566,305)(567.5,308.8)(570,312)(572.6,316.2)(577,327)(581.1,331)(585,336)(589.6,332.5)(594,329)(599.7,331)(605,327)(609.9,325.1)(613,313)(616.7,304.4)(620,294)(623.5,292.6)(627,283)(630.3,274.8)(633.9,268.9)(636,272)(638.3,277.8)(641,284)(644.2,289.6)(646,296)(648.6,301.4)(651,306)(653.1,313.2)(655,317)(657.5,322.1)(661.9,320)(667.8,307.3)(670.8,292.5)(675.2,266)(679.7,271.9)(685.6,260)(691.5,263)(697.4,257.1)(700.4,254.1)(709.2,248.2)(715.1,249.7)(721,242.3)(729.9,236.4)(735.8,242.3)(741.7,234.9)(747.6,236.4)(753.5,239.4)(759.5,242.3)(765.4,236.4)(771,237)(777.2,237.9)(783.1,234.9)(789,242.3)(797.9,237.9)(806.7,236.4)(809.7,242.3)(814.1,212.8)(818.5,230.5)(821.5,234.9)(827.4,227.5)(831.8,209.8)(836.3,224.6)(839.2,215.7)(840.7,177.3)(842.2,70)(848.1,70)(851,177.3)(854,230.5)(857,266)(862.9,282.2)(868.8,263)(871.7,226)(874.7,242.3)(877.6,271.9)(880.6,162.5)(883.5,144.8)(888,112.3)(890.9,70)(893.9,70)(898.3,162.5)(901.3,221.6)(905.7,295.5)(907.2,313.2)(914,318)(922,310.3)(930.8,295.5)(936.7,280.7)(945.6,268.9)(954.5,263)(960.4,257.1)(963.3,248.2)(966.3,200.9)(969.2,212.8)(972.2,177.3)(975.1,162.5)(978.1,130)(982.6,70)(987,162.5)(990,230.5)(995.8,280.7)(1000.3,298.5)(1007.7,283.7)(1016.5,271.9)(1022.4,263)(1025.4,266)(1028.3,224.6)(1031.3,242.3)(1034.3,242.3)(1037.2,177.3)(1040.2,133)(1043.1,103.4)(1049,70)(1053.5,165.5)(1057.9,236.4)(1062.3,295.5)(1066.8,307.3)(1075.6,295.5)(1081.5,266)(1084.5,218.7)(1087.4,177.3)(1090.4,147.8)(1094.8,70)(1096,70)(1099.2,153.7)(1102.4,227.6)(1105.6,286.7)(1112,310.3)(1121.7,292.6)(1131.3,263)(1139.4,227.6)(1141.6,206.9)(1144.2,245.3)(1147.4,239.4)(1150,168.5)(1152.3,124.1)(1157.1,162.5)(1160.3,227.6)(1163.5,280.7)(1170,283.7)(1174.8,280.7)(1181.2,263)(1184.4,257.1)(1187.6,203.9)(1190.8,138.9)(1192.5,112.3)(1195.7,138.9)(1198.9,198)(1203.7,257.1)(1211.8,263)(1218.2,268.9)(1224.6,263)(1229.4,251.2)(1232.7,183.2)(1235.9,138.9)(1237.5,136)(1240.7,168.5)(1243.9,227.6)(1247.1,257.1)(1253.6,263)(1260,274.8)(1264.8,254.1)(1268,236.4)(1271.3,198)(1274.5,109.4)(1276.1,94.6)(1279.3,153.7)(1284.1,227.6)(1289,257.1)(1293.8,266)(1298.6,274.8)(1303.4,268.9)(1308.3,257.1)(1314.7,245.3)(1321.1,221.6)(1324.3,209.8)(1327.6,236.4)(1329.2,70)(1332,70)(1335.6,153.7)(1340.4,227.6)(1345.2,286.7)(1350.1,289.6)(1356.5,280.7)(1362.9,271.9)(1369.4,251.2)(1374.2,245.3)(1377.4,212.8)(1382.2,203.9)(1385.4,168.5)(1390.3,124.1)(1393.5,118.2)(1396.7,70)(1401.5,70)(1404.7,168.5)(1409.6,242.3)(1414.4,304.4)(1420.8,304.4)(1430.5,286.7)(1433.7,245.3)(1436.9,280.7)(1443.3,257.1)(1446.6,212.8)(1449.8,168.5)(1454.6,124.1)(1459.4,97.5)(1462.7,70)(1465.9,138.9)(1470.7,227.6)(1477.1,316.2)(1482,313.2)(1491.6,292.6)(1501.3,268.9)(1509.3,236.4)(1512.5,206.9)(1515.7,174.4)(1520.5,133)(1523.8,174.4)(1527,212.8)(1530.2,70)(1533.4,97.5)(1536.6,212.8)(1539.8,257.1)(1543.1,286.7)(1549.5,292.6)(1555.9,286.7)(1560.7,280.7)};
% cursor lines
\addplot[red, line width=0.35mm] coordinates {(843,128)(843,907)};
\addplot[tb, line width=0.3mm] coordinates {(1203,68)(1203,907)};
\end{axis}
\begin{scope}[shift={(-121,-907)}]
% channel labels
\node[anchor=west, text=tb] at (41,152) {\lf FLOW};
\node[anchor=west, text=tb] at (41,236) {\lf CHEST};
\node[anchor=west, text=tb] at (41,320) {\lf ABDOMEN};
\node[anchor=west, text=red] at (41,405) {\lf HR};
\node[anchor=west, text=tb] at (41,488) {\lf SaO2(ERR)};
\node[anchor=west, text=mag] at (41,572) {\lf ECG};
\node[anchor=west, text=tb] at (41,657) {\lf ECG(Q-S)};
\node[anchor=west, text=mag] at (41,741) {\lf EMG(C)};
\node[anchor=west, text=mag] at (41,825) {\lf Pes};
% value labels
\tikzset{val/.style={fill=white, text=mag, inner sep=0.3mm}}
\node[val, anchor=west] at (1209,405) {\lf 69.97};
\node[val, anchor=west] at (1209,487) {\lf 97.40};
\node[val, anchor=west] at (1209,657) {\lf -292.23};
\node[val, anchor=west] at (1209,741) {\lf -35.63};
\node[val, anchor=west] at (1209,825) {\lf 4.31};
\node[val, anchor=east] at (1559,225) {\lf 914.3};
\node[val, anchor=east] at (1559,309) {\lf 2101.1};
\node[val, anchor=east] at (1559,393) {\lf 21.7};
\node[val, anchor=east] at (1559,477) {\lf 3.20};
\node[val, anchor=east] at (1559,561) {\lf -720.0};
% annotation ellipses
\draw[red, line width=1mm] (80,655.5) ellipse [x radius=18.1mm, y radius=7.6mm];
\draw[red, line width=1mm] (737.5,645.3) ellipse [x radius=35.25mm, y radius=13.75mm];
\end{scope}
\end{tikzpicture}
\end{document}
